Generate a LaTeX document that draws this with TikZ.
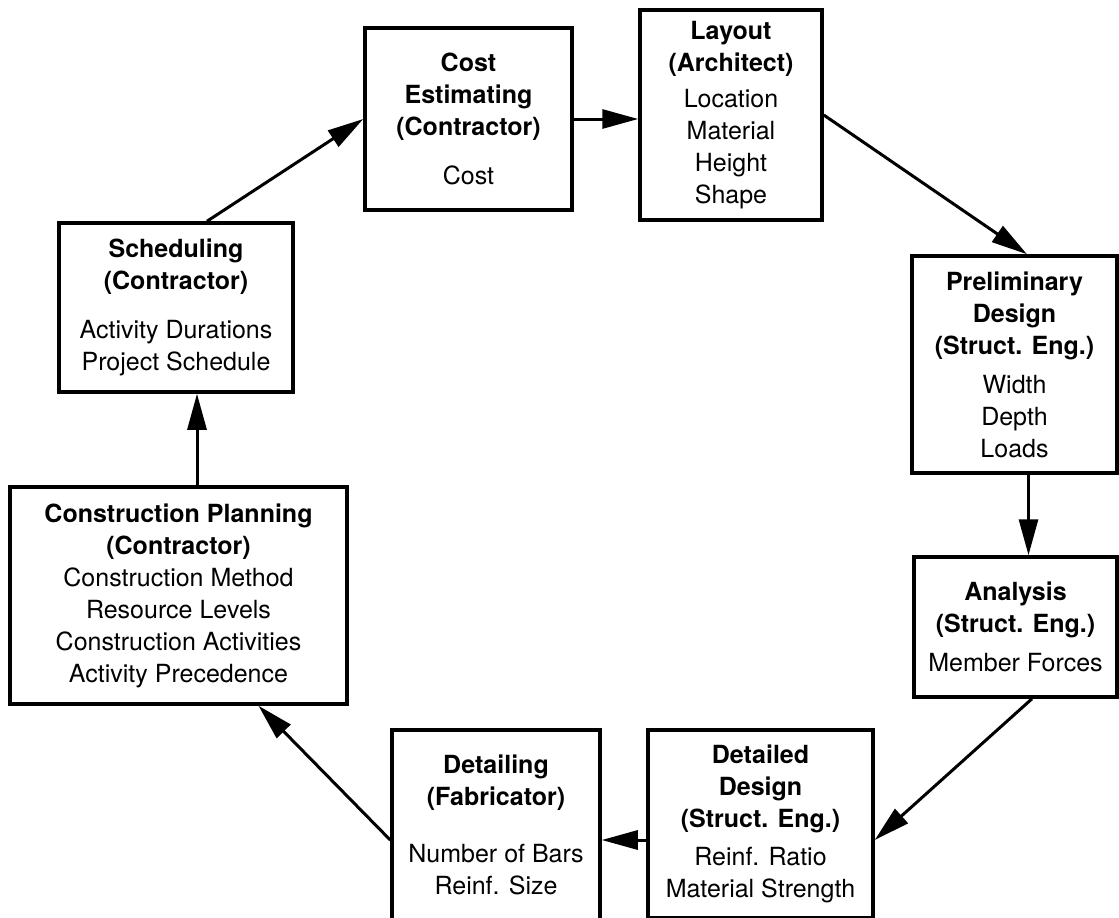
\documentclass[tikz,border=0pt]{standalone}
\usepackage{fontspec}
\setmainfont{TeX Gyre Heros}
\usetikzlibrary{arrows.meta}

\tikzset{
  stage/.style={draw, line width=3.5pt, align=center, inner sep=0pt,
    font=\fontsize{25}{32}\selectfont},
  flow/.style={line width=3pt, -{Triangle[length=36pt,width=19pt]}},
}

\begin{document}
\begin{tikzpicture}[x=1pt,y=-1pt]
  \useasboundingbox (0,0) rectangle (1119,918);

  % the eight stages, clockwise from the top
  \node[stage, minimum width=207pt, minimum height=182pt] (cost) at (468.5,119)
    {\textbf{Cost}\\\textbf{Estimating}\\\textbf{(Contractor)}\\[17pt]Cost};
  \node[stage, minimum width=182pt, minimum height=210pt] (layout) at (731,115)
    {\textbf{Layout}\\\textbf{(Architect)}\\[4pt]Location\\Material\\Height\\Shape};
  \node[stage, minimum width=205pt, minimum height=217pt] (prelim) at (1014.5,364.5)
    {\textbf{Preliminary}\\\textbf{Design}\\\textbf{(Struct. Eng.)}\\[7pt]Width\\Depth\\Loads};
  \node[stage, minimum width=203pt, minimum height=140pt] (analysis) at (1015.5,627)
    {\textbf{Analysis}\\\textbf{(Struct. Eng.)}\\[7pt]Member Forces};
  \node[stage, minimum width=225pt, minimum height=188pt] (detdesign) at (760.5,824)
    {\textbf{Detailed}\\\textbf{Design}\\\textbf{(Struct. Eng.)}\\[6pt]Reinf. Ratio\\Material Strength};
  \node[stage, minimum width=208pt, minimum height=190pt] (detailing) at (496,825)
    {\textbf{Detailing}\\\textbf{(Fabricator)}\\[25pt]Number of Bars\\Reinf. Size};
  \node[stage, minimum width=337pt, minimum height=217pt] (planning) at (178.5,595.5)
    {\textbf{Construction Planning}\\\textbf{(Contractor)}\\Construction Method\\Resource Levels\\Construction Activities\\Activity Precedence};
  \node[stage, minimum width=234pt, minimum height=169pt] (sched) at (176,307.5)
    {\textbf{Scheduling}\\\textbf{(Contractor)}\\[17pt]Activity Durations\\Project Schedule};

  % the cycle
  \draw[flow] ([xshift=18.5pt]planning.north) -- ([xshift=21pt]sched.south);
  \draw[flow] ([xshift=31pt]sched.north) -- (cost.west);
  \draw[flow] (cost.east) -- (cost.east -| layout.west);
  \draw[flow] (layout.east) -- ([xshift=12.5pt]prelim.north);
  \draw[flow] ([xshift=14pt]prelim.south) -- ([xshift=14pt]prelim.south |- analysis.north);
  \draw[flow] ([xshift=16.5pt]analysis.south) -- ([yshift=-16pt]detdesign.east);
  \draw[flow] ([yshift=-16pt]detdesign.west) -- ([yshift=-16pt]detdesign.west -| detailing.east);
  \draw[flow] ([yshift=-15pt]detailing.west) -- ([xshift=80pt]planning.south);
\end{tikzpicture}
\end{document}
